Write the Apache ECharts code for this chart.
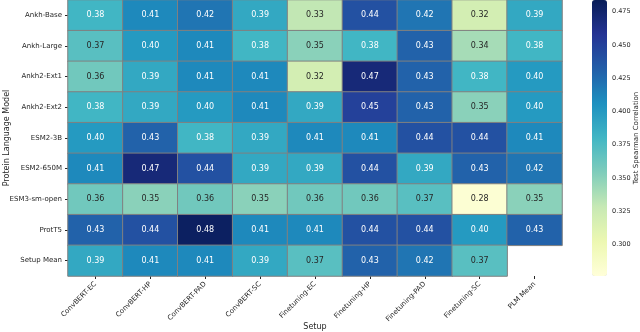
<!DOCTYPE html>
<html>
<head>
<meta charset="utf-8">
<script src="https://cdn.jsdelivr.net/npm/echarts@6/dist/echarts.min.js"></script>
<style>
  html, body { margin: 0; padding: 0; background: #fff; }
  #heatmapDiv { width: 640px; height: 332px; }
</style>
</head>
<body>
<div id="heatmapDiv"></div>
<script type="text/javascript">
  // setups (columns) and protein language models (rows)
  var setups = ["ConvBERT-EC", "ConvBERT-HP", "ConvBERT-PAD", "ConvBERT-SC", "Finetuning-EC",
                "Finetuning-HP", "Finetuning-PAD", "Finetuning-SC", "PLM Mean"];
  var models = ["Ankh-Base", "Ankh-Large", "Ankh2-Ext1", "Ankh2-Ext2", "ESM2-3B",
                "ESM2-650M", "ESM3-sm-open", "ProtT5", "Setup Mean"];

  // one array per row
  var ankhBase   = [0.38, 0.41, 0.42, 0.39, 0.33, 0.44, 0.42, 0.32, 0.39];
  var ankhLarge  = [0.37, 0.40, 0.41, 0.38, 0.35, 0.38, 0.43, 0.34, 0.38];
  var ankh2Ext1  = [0.36, 0.39, 0.41, 0.41, 0.32, 0.47, 0.43, 0.38, 0.40];
  var ankh2Ext2  = [0.38, 0.39, 0.40, 0.41, 0.39, 0.45, 0.43, 0.35, 0.40];
  var esm2_3b    = [0.40, 0.43, 0.38, 0.39, 0.41, 0.41, 0.44, 0.44, 0.41];
  var esm2_650m  = [0.41, 0.47, 0.44, 0.39, 0.39, 0.44, 0.39, 0.43, 0.42];
  var esm3Open   = [0.36, 0.35, 0.36, 0.35, 0.36, 0.36, 0.37, 0.28, 0.35];
  var protT5     = [0.43, 0.44, 0.48, 0.41, 0.41, 0.44, 0.44, 0.40, 0.43];
  var setupMean  = [0.39, 0.41, 0.41, 0.39, 0.37, 0.43, 0.42, 0.37, null];
  var rows = [ankhBase, ankhLarge, ankh2Ext1, ankh2Ext2, esm2_3b, esm2_650m, esm3Open, protT5, setupMean];

  // colour bar range and ticks
  var colorMin = 0.2763;
  var colorMax = 0.4838;
  var colorTicks = [0.300, 0.325, 0.350, 0.375, 0.400, 0.425, 0.450, 0.475];
  // YlGnBu
  var ylGnBu = ["#ffffd9", "#edf8b1", "#c7e9b4", "#7fcdbb", "#41b6c4", "#1d91c0", "#225ea8", "#253494", "#081d58"];

  var heatData = [];
  for (var r = 0; r < rows.length; r++) {
    for (var c = 0; c < setups.length; c++) {
      var v = rows[r][c];
      if (v === null) continue;
      heatData.push({
        value: [c, r, v],
        label: { color: v < 0.375 ? "#262626" : "#ffffff" }
      });
    }
  }

  var myChart = echarts.init(document.getElementById('heatmapDiv'), null, { renderer: 'canvas' });
  var font = "DejaVu Sans";
  var textColor = '#262626';
  var option = {
    animation: false,
    textStyle: { fontFamily: font },
    grid: [
      { left: 68, right: 78, top: 0, bottom: 56, outerBoundsMode: 'none', containLabel: false },
      { left: 592, width: 15, top: 0, height: 276, outerBoundsMode: 'none', containLabel: false }
    ],
    xAxis: [
      {
        type: 'category',
        data: setups,
        gridIndex: 0,
        name: 'Setup',
        nameLocation: 'middle',
        nameGap: 47,
        nameMoveOverlap: false,
        nameTextStyle: { fontSize: 8, color: textColor, fontFamily: font },
        axisLine: { show: false },
        axisTick: { show: true, alignWithLabel: true, length: 3, lineStyle: { color: textColor } },
        axisLabel: { rotate: 45, fontSize: 7, color: textColor, margin: 7, fontFamily: font },
        splitLine: { show: false }
      },
      { type: 'value', gridIndex: 1, show: false, min: 0, max: 1 }
    ],
    yAxis: [
      {
        type: 'category',
        data: models,
        gridIndex: 0,
        inverse: true,
        name: 'Protein Language Model',
        nameLocation: 'middle',
        nameGap: 57,
        nameRotate: 90,
        nameMoveOverlap: false,
        nameTextStyle: { fontSize: 8, color: textColor, fontFamily: font },
        axisLine: { show: false },
        axisTick: { show: true, alignWithLabel: true, length: 3, lineStyle: { color: textColor } },
        axisLabel: { fontSize: 7, color: textColor, margin: 6, fontFamily: font },
        splitLine: { show: false }
      },
      {
        type: 'value',
        gridIndex: 1,
        position: 'right',
        min: colorMin,
        max: colorMax,
        name: 'Test Spearman Correlation',
        nameLocation: 'middle',
        nameGap: 26,
        nameRotate: 90,
        nameMoveOverlap: false,
        nameTextStyle: { fontSize: 7, color: textColor, fontFamily: font },
        axisLine: { show: false },
        axisTick: { show: true, length: 3, customValues: colorTicks, lineStyle: { color: textColor } },
        axisLabel: {
          fontSize: 6.5, color: textColor, margin: 5, fontFamily: font,
          customValues: colorTicks,
          formatter: function (v) { return v.toFixed(3); }
        },
        splitLine: { show: false }
      }
    ],
    visualMap: {
      type: 'continuous',
      seriesIndex: 0,
      min: colorMin,
      max: colorMax,
      calculable: false,
      showLabel: false,
      text: ['', ''],
      left: 592,
      top: 0,
      padding: 0,
      itemWidth: 15,
      itemHeight: 276,
      inRange: { color: ylGnBu }
    },
    series: [
      {
        type: 'heatmap',
        xAxisIndex: 0,
        yAxisIndex: 0,
        data: heatData,
        itemStyle: { borderColor: '#808080', borderWidth: 1 },
        label: {
          show: true,
          fontSize: 8,
          fontFamily: font,
          formatter: function (p) { return p.value[2].toFixed(2); }
        },
        emphasis: { disabled: true }
      }
    ]
  };
  myChart.setOption(option);
</script>
</body>
</html>
